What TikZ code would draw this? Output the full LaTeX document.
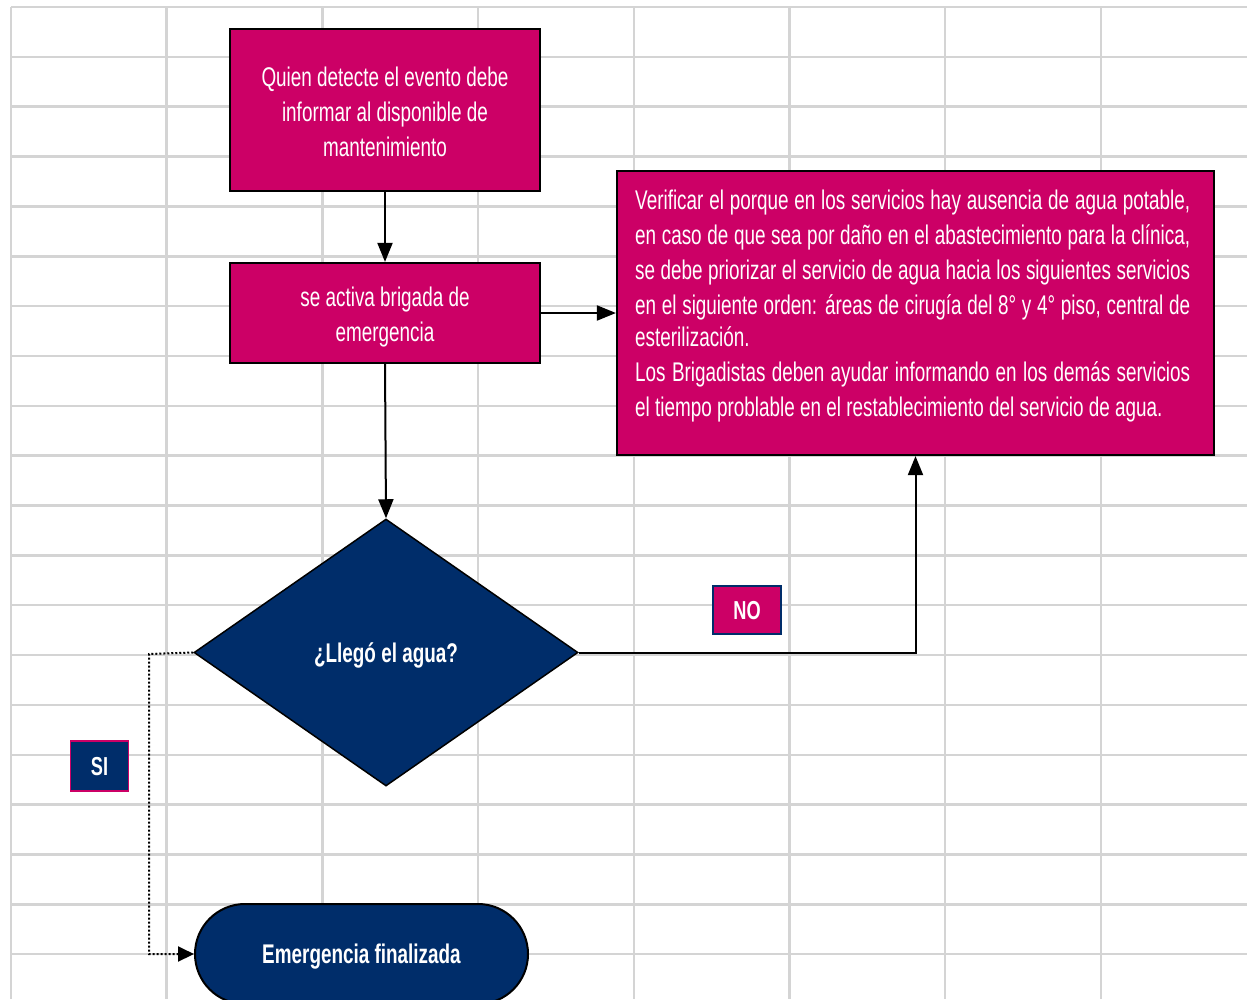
\documentclass[tikz,border=0pt]{standalone}
\usepackage{fontspec}
\setmainfont{Liberation Sans}[FakeStretch=0.70]
\usetikzlibrary{shapes.geometric,arrows.meta}
\definecolor{mag}{RGB}{204,0,102}
\definecolor{navy}{RGB}{0,45,106}
\definecolor{gridgray}{RGB}{212,212,212}
\newcommand{\jline}[1]{\makebox[555pt][s]{#1}}
\newcommand{\lowerby}[2]{\raisebox{-#1}[\height][\depth]{#2}}
\begin{document}
\begin{tikzpicture}[x=1pt,y=-1pt,
  gridline/.style={draw=gridgray,line width=2.5pt},
  proc/.style={draw=black,line width=2.2pt,fill=mag,text=white,align=center,inner sep=0pt,font=\fontsize{27}{35}\selectfont},
  proctext/.style={text=white,align=left,inner sep=0pt,font=\fontsize{27}{35}\selectfont},
  dec/.style={diamond,draw=black,line width=1.5pt,fill=navy,text=white,inner sep=0pt,font=\bfseries\fontsize{27}{30}\selectfont},
  term/.style={draw=black,line width=2pt,fill=navy,text=white,rounded corners=50pt,inner sep=0pt,font=\bfseries\fontsize{27}{30}\selectfont},
  tagno/.style={draw=navy,line width=1.5pt,fill=mag,text=white,inner sep=0pt,font=\bfseries\fontsize{26}{28}\selectfont},
  tagsi/.style={draw=mag,line width=1.5pt,fill=navy,text=white,inner sep=0pt,font=\bfseries\fontsize{26}{28}\selectfont},
  conn/.style={draw=black,line width=2pt,-{Triangle[length=19pt,width=15pt]}},
  dotconn/.style={draw=black,line width=2pt,dash pattern=on 2pt off 2pt,-{Triangle[length=16pt,width=15pt]}}
]
\useasboundingbox (0,0) rectangle (1247,999);
% grid
\foreach \i in {0,...,7} \draw[gridline] ({11+155.7*\i},7) -- ({11+155.7*\i},999);
\foreach \j in {0,...,19} \draw[gridline] (11,{7+49.85*\j}) -- (1247,{7+49.85*\j});

% nodes
\node[proc,minimum width=310pt,minimum height=162pt] (b1) at (385,110)
  {\lowerby{2pt}{\parbox{300pt}{\centering Quien detecte el evento debe\\informar al disponible de\\mantenimiento}}};
\node[proc,minimum width=310pt,minimum height=100pt] (b2) at (385,313)
  {\lowerby{4pt}{\parbox{300pt}{\centering se activa brigada de\\emergencia}}};
\node[proc,minimum width=597pt,minimum height=284pt] (b3) at (915.5,313) {};
\node[proctext,anchor=north west] (b3t) at (635,190)
  {\jline{Verificar el porque en los servicios hay ausencia de agua potable,}\\
   \jline{en caso de que sea por daño en el abastecimiento para la clínica,}\\
   \jline{se debe priorizar el servicio de agua hacia los siguientes servicios}\\
   \jline{en el siguiente orden: áreas de cirugía del 8° y 4° piso, central de}\\[-3pt]
   esterilización.\\
   \jline{Los Brigadistas deben ayudar informando en los demás servicios}\\
   el tiempo problable en el restablecimiento del servicio de agua.};
\node[dec,minimum width=384pt,minimum height=267pt] (dq) at (386,652.5) {\lowerby{3pt}{¿Llegó el agua?}};
\node[term,minimum width=333pt,minimum height=100pt] (fin) at (361.5,954) {\lowerby{3pt}{Emergencia finalizada}};
\node[tagno,minimum width=68pt,minimum height=48pt] (no) at (747,610) {\lowerby{1pt}{NO}};
\node[tagsi,minimum width=58pt,minimum height=50pt] (si) at (99.5,766) {\lowerby{1pt}{SI}};
\coordinate (k) at (149,654);

% connectors
\draw[conn] (b1.south) -- (b2.north);
\draw[conn] (b2.east) -- (b3.west);
\draw[conn] (b2.south) -- (dq.north);
\draw[conn] (dq.east) -| (b3.south);
\draw[dotconn] (dq.west) -- (k) |- (fin.west);
\end{tikzpicture}
\end{document}
